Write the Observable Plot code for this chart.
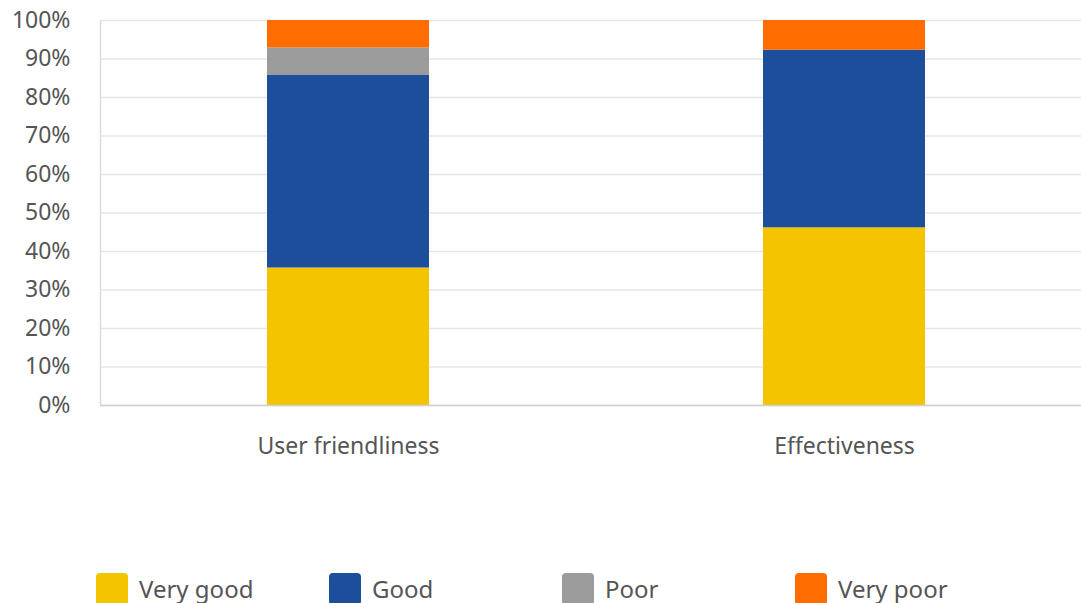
<!DOCTYPE html>
<html>
<head>
<meta charset="utf-8">
<script src="https://cdn.jsdelivr.net/npm/d3@7"></script>
<script src="https://cdn.jsdelivr.net/npm/@observablehq/plot@0.6"></script>
<style>
  html, body { margin: 0; padding: 0; background: #fff; width: 1081px; height: 603px; overflow: hidden; position: relative; }
  #chart { position: absolute; left: 0; top: 0; }
  #legend { position: absolute; left: 96px; top: 572px; font-family: "Noto Sans", sans-serif; font-size: 24px; color: #555; }
  .item { position: absolute; top: 0; display: flex; align-items: center; white-space: nowrap; }
  .sw { width: 32px; height: 32px; border-radius: 4px; margin-right: 11px; }
</style>
</head>
<body>
<div id="chart"></div>
<div id="legend"></div>
<script>
const categories = ["User friendliness", "Effectiveness"];
const levels = ["Very good", "Good", "Poor", "Very poor"];
const veryGood = [35.71, 46.15];
const good = [50.0, 46.15];
const poor = [7.14, 0];
const veryPoor = [7.14, 7.69];
const colors = ["#F5C400", "#1C4E9B", "#9B9B9B", "#FF6D00"];
const yTicks = [0, 10, 20, 30, 40, 50, 60, 70, 80, 90, 100];

const series = [veryGood, good, poor, veryPoor];
const rows = [];
levels.forEach((lv, i) => categories.forEach((c, j) => rows.push({category: c, level: lv, value: series[i][j]})));

const leftLine = (index, scales, values, dims) => {
  const g = document.createElementNS("http://www.w3.org/2000/svg", "line");
  g.setAttribute("x1", dims.marginLeft + 0.5);
  g.setAttribute("x2", dims.marginLeft + 0.5);
  g.setAttribute("y1", dims.marginTop);
  g.setAttribute("y2", dims.height - dims.marginBottom);
  g.setAttribute("stroke", "#dcdcdc");
  g.setAttribute("stroke-width", 1.5);
  return g;
};

const chart = Plot.plot({
  width: 1081,
  height: 480,
  marginLeft: 100,
  marginRight: 0,
  marginTop: 20,
  marginBottom: 75,
  style: { fontFamily: "'Noto Sans', sans-serif", fontSize: "23px", color: "#555", background: "#fff" },
  x: { domain: categories, range: [100, 1092], paddingInner: 0.673, paddingOuter: 0.3365, label: null },
  y: { domain: [0, 100], label: null },
  color: { domain: levels, range: colors },
  marks: [
    Plot.gridY(yTicks, { stroke: "#e6e6e6", strokeOpacity: 1, strokeWidth: 1.5 }),
    Plot.barY(rows, { x: "category", y: "value", fill: "level", order: levels }),
    Plot.ruleY([0], { stroke: "#cfcfcf", strokeWidth: 1.5 }),
    leftLine,
    Plot.axisY(yTicks, { tickSize: 0, tickPadding: 30, tickFormat: d => d + "%", fill: "#555", fontSize: 23 }),
    Plot.axisX({ tickSize: 0, tickPadding: 32, fill: "#555", fontSize: 23 })
  ]
});
document.getElementById("chart").appendChild(chart);

const legend = document.getElementById("legend");
levels.forEach((lv, i) => {
  const it = document.createElement("div");
  it.className = "item";
  it.style.left = (i * 233) + "px";
  it.innerHTML = `<div class="sw" style="background:${colors[i]}"></div><span>${lv}</span>`;
  legend.appendChild(it);
});
</script>
</body>
</html>
